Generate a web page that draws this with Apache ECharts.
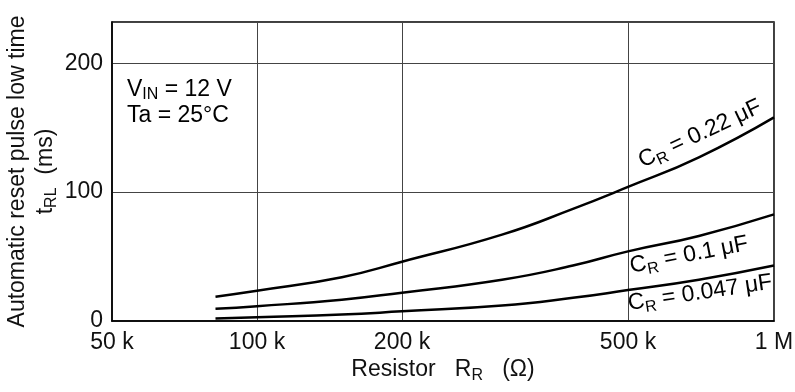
<!DOCTYPE html>
<html>
<head>
<meta charset="UTF-8">
<title>tRL vs RR</title>
<script src="https://cdn.jsdelivr.net/npm/echarts@6/dist/echarts.min.js"></script>
</head>
<body style="margin:0">
<div id="chart" style="width:795px;height:392px"></div>
<script>
// resistor values (kΩ) where the curves were read
const resistorK = [82, 100, 150, 200, 300, 400, 500, 700, 1000];
// t_RL (ms) for each capacitor
const tCr022 = [18.9, 23.5, 34, 46, 67, 87, 104, 127, 158];
const tCr01 = [9.5, 11.5, 16.5, 22, 32, 43, 54, 66, 82.7];
const tCr0047 = [2, 3, 5, 7.5, 12, 18, 24, 32, 43];

const xTickK = [50, 100, 200, 500, 1000];
const xTickText = ['50 k', '100 k', '200 k', '500 k', '1 M'];
const yTicks = [0, 100, 200];

// the original paper is not a clean log scale: 200k..500k is stretched.
// axis units per tick (piecewise log between ticks)
const xTickUnit = [0, 145, 290, 516, 662];
function xPos(k) {
  for (let i = 0; i < xTickK.length - 1; i++) {
    if (k <= xTickK[i + 1]) {
      let f = Math.log(k / xTickK[i]) / Math.log(xTickK[i + 1] / xTickK[i]);
      return xTickUnit[i] + f * (xTickUnit[i + 1] - xTickUnit[i]);
    }
  }
  return xTickUnit[xTickUnit.length - 1];
}

const font = 'Liberation Sans, Arial, sans-serif';
const rich = {
  n: { fontSize: 23, fontFamily: font, color: '#111' },
  s: { fontSize: 16, fontFamily: font, color: '#111', verticalAlign: 'bottom', padding: [13, 0, 0, 0] }
};

function mkSeries(name, vals) {
  return {
    name: name,
    type: 'line',
    smooth: true,
    symbol: 'none',
    lineStyle: { color: '#000', width: 2.5 },
    data: resistorK.map((r, i) => [xPos(r), vals[i]])
  };
}

function label(txt, x, y, deg) {
  return {
    type: 'text', x: x, y: y, rotation: deg * Math.PI / 180,
    style: { text: txt, rich: rich, align: 'center', verticalAlign: 'middle' }
  };
}

let myChart = echarts.init(document.getElementById('chart'));
let option = {
  animation: false,
  grid: {
    left: 112, right: 21, top: 22, bottom: 71,
    outerBoundsMode: 'none',
    show: true, borderColor: '#000', borderWidth: 1.5
  },
  xAxis: {
    type: 'value',
    min: 0,
    max: xTickUnit[xTickUnit.length - 1],
    axisLine: { lineStyle: { color: '#000', width: 1.5 } },
    axisTick: { show: false, customValues: xTickUnit },
    axisLabel: {
      customValues: xTickUnit,
      formatter: v => xTickText[xTickUnit.indexOf(v)],
      fontSize: 23, fontFamily: font, color: '#111', margin: 10
    },
    splitLine: { show: true, lineStyle: { color: '#444', width: 1 } },
    name: '{n|Resistor   R}{s|R}{n|   (Ω)}',
    nameLocation: 'middle',
    nameGap: 34,
    nameMoveOverlap: false,
    nameTextStyle: { rich: rich }
  },
  yAxis: {
    type: 'value',
    min: 0,
    max: 232,
    interval: 100,
    axisLine: { show: true, lineStyle: { color: '#000', width: 1.5 } },
    axisTick: { show: false },
    axisLabel: {
      showMaxLabel: false,
      formatter: v => yTicks.indexOf(v) >= 0 ? String(v) : '',
      fontSize: 23, fontFamily: font, color: '#111', margin: 9
    },
    splitLine: { show: true, lineStyle: { color: '#444', width: 1 } },
    name: '{n|Automatic reset pulse low time}\n{n|t}{s|RL}{n|  (ms)}',
    nameLocation: 'middle',
    nameRotate: 90,
    nameGap: 52,
    nameMoveOverlap: false,
    nameTextStyle: { rich: rich, lineHeight: 28 }
  },
  graphic: [
    { type: 'text', left: 127, top: 77, style: { text: '{n|V}{s|IN}{n| = 12 V}\n{n|Ta = 25°C}', rich: rich, lineHeight: 26 } },
    label('{n|C}{s|R}{n| = 0.22 μF}', 700, 134, 25),
    label('{n|C}{s|R}{n| = 0.1 μF}', 689, 255, 11),
    label('{n|C}{s|R}{n| = 0.047 μF}', 700, 293, 8.5)
  ],
  series: [
    mkSeries('0.22', tCr022),
    mkSeries('0.1', tCr01),
    mkSeries('0.047', tCr0047)
  ]
};
myChart.setOption(option);
</script>
</body>
</html>
